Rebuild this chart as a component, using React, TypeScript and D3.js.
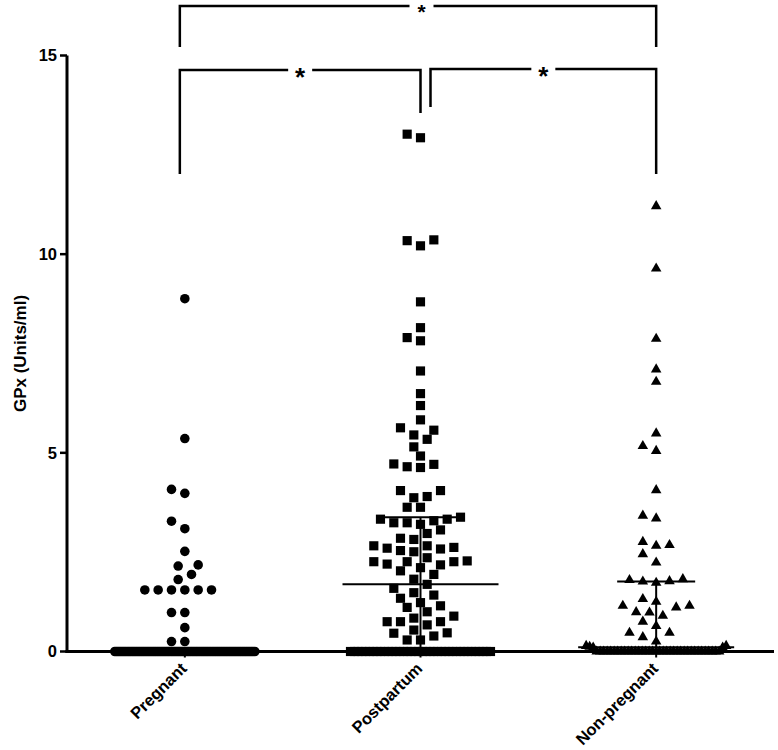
import React, { useEffect, useRef } from "react";
import * as d3 from "d3";

const groups = ["Pregnant", "Postpartum", "Non-pregnant"];

const pregnantValues = [
  8.88, 5.36, 4.08, 3.98, 3.28, 3.09, 2.52, 2.18, 2.15, 1.94, 1.81, 1.55, 1.55,
  1.55, 1.55, 1.55, 1.55, 0.98, 0.98, 0.6, 0.25, 0.25,
];
const pregnantZeros = 80;

const postpartumValues = [
  13.02, 12.93, 10.36, 10.21, 10.34, 8.8, 8.15, 7.82, 7.9, 7.06, 6.49, 6.19,
  5.83, 5.63, 5.45, 5.57, 5.34, 5.15, 4.92, 4.72, 4.65, 4.63, 4.71, 4.05, 4.05,
  3.9, 3.87, 3.63, 3.63, 3.38, 3.33, 3.24, 3.2, 3.24, 3.29, 3.33, 3.06, 2.97,
  2.85, 2.82, 2.66, 2.6, 2.54, 2.58, 2.62, 2.66, 2.51, 2.36, 2.28, 2.26, 2.18,
  2.2, 2.26, 2.26, 2.11, 2.03, 1.94, 1.82, 1.69, 1.59, 1.48, 1.34, 1.42, 1.23,
  1.15, 1.11, 1.0, 0.89, 0.75, 0.75, 0.75, 0.84, 0.67, 0.54, 0.46, 0.39, 0.47,
  0.29, 0.29,
];
const postpartumZeros = 38;

const nonPregnantValues = [
  11.21, 9.64, 7.87, 7.1, 6.79, 5.49, 5.17, 5.05, 4.06, 3.42, 3.35, 2.76, 2.66,
  2.68, 2.45, 2.24, 1.82, 1.77, 1.73, 1.76, 1.8, 1.25, 1.32, 1.15, 1.11, 1.15,
  0.98, 0.99, 0.9, 0.75, 0.64, 0.47, 0.47, 0.36, 0.25, 0.14, 0.14, 0.12, 0.1,
  0.1,
];
const nonPregnantZeros = 36;

const yTicks = [0, 5, 10, 15];

// significance brackets between groups
const comparisons = [
  { from: 0, to: 2, label: "*" },
  { from: 0, to: 1, label: "*" },
  { from: 1, to: 2, label: "*" },
];

const W = 778;
const H = 750;
const FONT = "'Liberation Sans', Arial, sans-serif";

// column scatter: values at (almost) zero share one compressed row, the rest are swarmed
function swarm(values: number[], y: (v: number) => number, step: number, minDist: number, rowHalf: number) {
  const placed: { v: number; dx: number; py: number }[] = [];
  const base = values.filter((v) => v < 0.15).sort(d3.descending);
  const slots = base.map((_, i) =>
    base.length > 1 ? -rowHalf + (2 * rowHalf * i) / (base.length - 1) : 0
  );
  // largest base values go to the row ends, alternating left / right
  let lo = 0;
  let hi = slots.length - 1;
  base.forEach((v, i) => {
    const dx = i % 2 === 0 ? slots[lo++] : slots[hi--];
    placed.push({ v, dx, py: y(v) });
  });
  const free: typeof placed = [];
  const rest = values.filter((v) => v >= 0.15).sort(d3.ascending);
  rest.forEach((v) => {
    const py = y(v);
    for (let k = 0; k < 60; k++) {
      const c = k === 0 ? 0 : (k % 2 === 1 ? -1 : 1) * Math.ceil(k / 2);
      const dx = c * step;
      if (free.every((p) => Math.hypot(p.dx - dx, p.py - py) >= minDist)) {
        free.push({ v, dx, py });
        return;
      }
    }
  });
  return placed.concat(free);
}

export default function App() {
  const ref = useRef<SVGSVGElement>(null);

  useEffect(() => {
    const svg = d3.select(ref.current);
    svg.selectAll("*").remove();

    const x = d3.scalePoint<string>().domain(groups).range([67, 774]).padding(0.5);
    const y = d3.scaleLinear().domain([0, 15]).range([651.5, 55.5]);

    const series = [
      { name: groups[0], values: pregnantValues.concat(Array(pregnantZeros).fill(0)), symbol: d3.symbolCircle, size: 72 },
      { name: groups[1], values: postpartumValues.concat(Array(postpartumZeros).fill(0)), symbol: d3.symbolSquare, size: 84 },
      { name: groups[2], values: nonPregnantValues.concat(Array(nonPregnantZeros).fill(0)), symbol: d3.symbolTriangle, size: 48 },
    ];

    const g = svg.append("g");

    // points
    series.forEach((s) => {
      const cx = x(s.name)!;
      const pts = swarm(s.values, y, 6.67, 11, 70);
      g.append("g")
        .selectAll("path")
        .data(pts)
        .enter()
        .append("path")
        .attr("d", d3.symbol().type(s.symbol).size(s.size)())
        .attr("transform", (d) => `translate(${cx + d.dx},${d.py})`)
        .attr("fill", "#000");
    });

    // median with interquartile range
    series.forEach((s) => {
      const cx = x(s.name)!;
      const sorted = s.values.slice().sort(d3.ascending);
      const med = d3.quantileSorted(sorted, 0.5)!;
      const q1 = d3.quantileSorted(sorted, 0.25)!;
      const q3 = d3.quantileSorted(sorted, 0.75)!;
      g.append("line")
        .attr("x1", cx - 78).attr("x2", cx + 78)
        .attr("y1", y(med)).attr("y2", y(med))
        .attr("stroke", "#000").attr("stroke-width", 2);
      g.append("line")
        .attr("x1", cx).attr("x2", cx)
        .attr("y1", y(q3)).attr("y2", y(q1))
        .attr("stroke", "#000").attr("stroke-width", 2);
      g.append("line")
        .attr("x1", cx - 39).attr("x2", cx + 39)
        .attr("y1", y(q3)).attr("y2", y(q3))
        .attr("stroke", "#000").attr("stroke-width", 2);
    });

    // axes
    svg.append("line")
      .attr("x1", 67).attr("x2", 67)
      .attr("y1", y(15)).attr("y2", y(0) + 1.5)
      .attr("stroke", "#000").attr("stroke-width", 3);
    svg.append("line")
      .attr("x1", 65.5).attr("x2", 774)
      .attr("y1", y(0)).attr("y2", y(0))
      .attr("stroke", "#000").attr("stroke-width", 3);

    yTicks.forEach((t) => {
      svg.append("line")
        .attr("x1", 60).attr("x2", 67)
        .attr("y1", y(t)).attr("y2", y(t))
        .attr("stroke", "#000").attr("stroke-width", 2.5);
      svg.append("text")
        .attr("x", 57).attr("y", y(t))
        .attr("dy", "0.36em")
        .attr("text-anchor", "end")
        .attr("font-family", FONT)
        .attr("font-weight", "bold")
        .attr("font-size", 16.5)
        .text(t);
    });

    groups.forEach((name) => {
      const cx = x(name)!;
      svg.append("line")
        .attr("x1", cx).attr("x2", cx)
        .attr("y1", y(0)).attr("y2", y(0) + 6)
        .attr("stroke", "#000").attr("stroke-width", 2);
      svg.append("text")
        .attr("transform", `translate(${cx + 3},${y(0) + 18}) rotate(-45)`)
        .attr("text-anchor", "end")
        .attr("font-family", FONT)
        .attr("font-weight", "bold")
        .attr("font-size", 16.5)
        .text(name);
    });

    svg.append("text")
      .attr("transform", `translate(26,${(y(0) + y(15)) / 2}) rotate(-90)`)
      .attr("text-anchor", "middle")
      .attr("font-family", FONT)
      .attr("font-weight", "bold")
      .attr("font-size", 17)
      .text("GPx (Units/ml)");

    // significance brackets
    const bracketTop = [6, 70, 69];
    const leftEnd = [47, 174, 107];
    const rightEnd = [47, 113, 174];
    const leftShift = [-5, -5, 10];
    const starSize = [21, 26, 26];
    comparisons.forEach((c, i) => {
      const x1 = x(groups[c.from])! + leftShift[i];
      const x2 = x(groups[c.to])!;
      const top = bracketTop[i];
      const mid = i === 0 ? x(groups[1])! + 1 : (x1 + x2) / 2;
      const gap = 12;
      const path = d3.path();
      path.moveTo(x1, leftEnd[i]);
      path.lineTo(x1, top);
      path.lineTo(mid - gap, top);
      path.moveTo(mid + gap, top);
      path.lineTo(x2, top);
      path.lineTo(x2, rightEnd[i]);
      svg.append("path")
        .attr("d", path.toString())
        .attr("fill", "none")
        .attr("stroke", "#000")
        .attr("stroke-width", 2.5);
      svg.append("text")
        .attr("x", mid).attr("y", top + 1 + 0.58 * starSize[i])
        .attr("text-anchor", "middle")
        .attr("font-family", FONT)
        .attr("font-weight", "bold")
        .attr("font-size", starSize[i])
        .text(c.label);
    });
  }, []);

  return (
    <svg
      ref={ref}
      width={W}
      height={H}
      style={{ position: "absolute", left: 0, top: 0, background: "#fff" }}
    />
  );
}
